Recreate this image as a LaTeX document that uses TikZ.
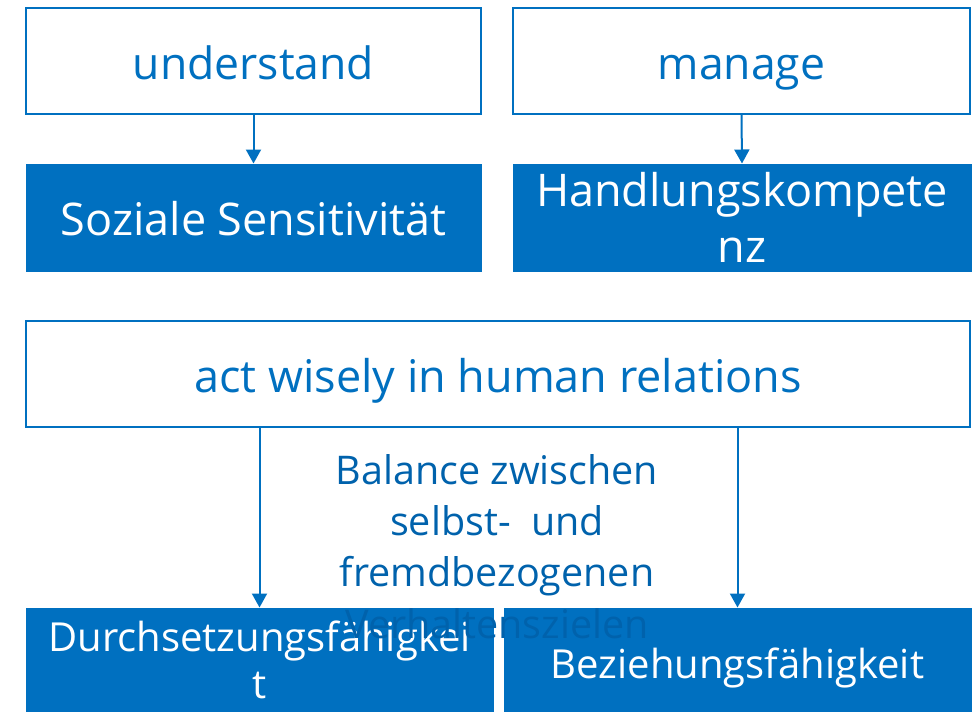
\documentclass[tikz,border=0pt]{standalone}
\usepackage{fontspec}
\setmainfont{Open Sans}
\usepackage{tikz}
\usetikzlibrary{arrows.meta}
\definecolor{msblue}{RGB}{0,112,192}
\definecolor{msdark}{RGB}{0,98,172}
\tikzset{
  outbox/.style={draw=msblue, line width=2pt, fill=white, text=msblue, inner sep=0pt, align=center},
  fillbox/.style={draw=msblue, line width=1pt, fill=msblue, text=white, inner sep=0pt, align=center},
  oneline/.style={text height=42pt, text depth=6pt},
  link/.style={draw=msblue, line width=2pt, -{Triangle[width=15pt,length=14pt]}}
}
\begin{document}
\begin{tikzpicture}[x=1pt, y=-1pt]
    \useasboundingbox (0,0) rectangle (977,712);
    % top row
    \node[outbox, oneline, minimum width=455pt, minimum height=106pt, font=\fontsize{44.5}{56}\selectfont] (und) at (253.5,61) {understand};
    \node[outbox, oneline, minimum width=457pt, minimum height=106pt, font=\fontsize{44.5}{56}\selectfont] (man) at (741.5,61) {manage};
    \node[fillbox, oneline, minimum width=455pt, minimum height=107pt, font=\fontsize{45}{56}\selectfont] (soz) at (253.5,217.5) {Soziale Sensitivität};
    \node[fillbox, minimum width=458pt, minimum height=107pt, font=\fontsize{45}{56}\selectfont] (hand) at (742,217.5) {Handlungskompete\\nz};
    \draw[link] (und.south) -- (soz.north); % understand arrow
    \draw[link] (man.south) -- (hand.north); % manage arrow
    % middle row
    \node[outbox, oneline, minimum width=944pt, minimum height=106pt, font=\fontsize{45}{56}\selectfont] (act) at (498,374) {act wisely in human relations};
    % bottom row
    \node[fillbox, minimum width=467pt, minimum height=104pt, font=\fontsize{40}{47}\selectfont] (dur) at (259.5,660) {Durchsetzungsfähigkei\\t};
    \node[fillbox, oneline, minimum width=467pt, minimum height=104pt, font=\fontsize{40}{47}\selectfont] (bez) at (737.5,660) {Beziehungsfähigkeit};
    \draw[link] (act.south -| dur.north) -- (dur.north); % left branch
    \draw[link] (act.south -| bez.north) -- (bez.north); % right branch
    % label between the branches
    \node[text=msdark, inner sep=0pt, align=center, anchor=north, font=\fontsize{39.5}{51.3}\selectfont] (bal) at (497,454) {Balance zwischen\\selbst-\ \ und\\fremdbezogenen\\Verhaltenszielen};
\end{tikzpicture}
\end{document}
